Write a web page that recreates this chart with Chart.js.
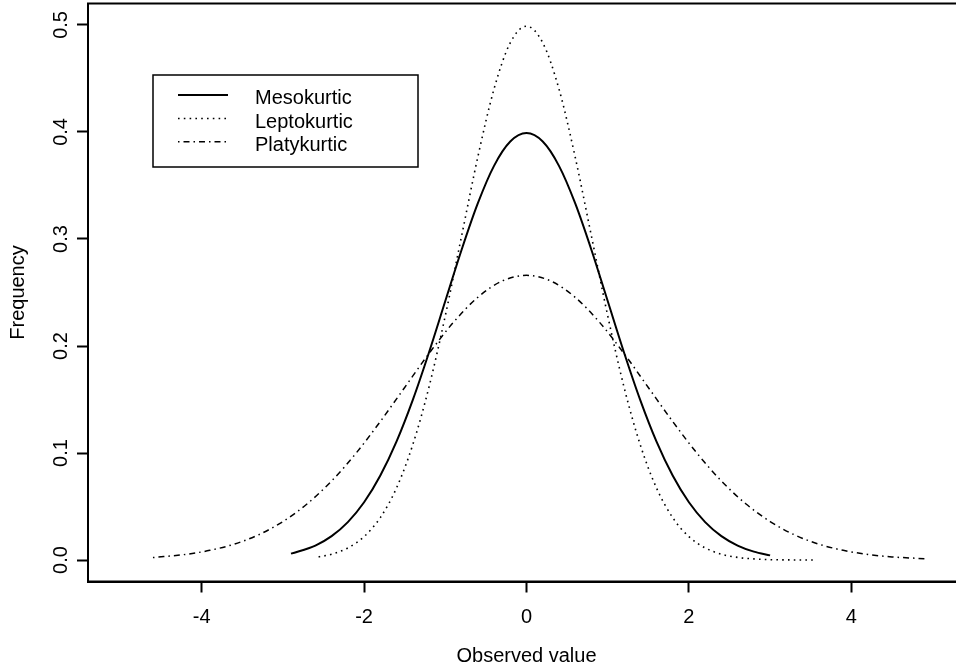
<!DOCTYPE html>
<html>
<head>
<meta charset="utf-8">
<script src="https://cdn.jsdelivr.net/npm/chart.js@4/dist/chart.umd.min.js"></script>
<style>
  html, body { margin: 0; padding: 0; background: #fff; overflow: hidden; }
  #wrap { width: 972px; height: 671px; }
</style>
</head>
<body>
<div id="wrap"><canvas id="kurtChart" width="972" height="671"></canvas></div>
<script>
// density curves (x, frequency)
const mesoX = [-2.9, -2.6, -2.4, -2.2, -2.0, -1.8, -1.6, -1.4, -1.2, -1.0, -0.8, -0.6, -0.4, -0.2, 0,
               0.2, 0.4, 0.6, 0.8, 1.0, 1.2, 1.4, 1.6, 1.8, 2.0, 2.2, 2.4, 2.6, 2.8, 3.0];
const mesoY = [0.0060, 0.0136, 0.0224, 0.0355, 0.0540, 0.0790, 0.1109, 0.1497, 0.1942, 0.2420, 0.2897, 0.3332, 0.3683, 0.3910, 0.3989,
               0.3910, 0.3683, 0.3332, 0.2897, 0.2420, 0.1942, 0.1497, 0.1109, 0.0790, 0.0540, 0.0355, 0.0224, 0.0136, 0.0079, 0.0044];

const leptoX = [-2.56, -2.4, -2.2, -2.0, -1.8, -1.6, -1.4, -1.2, -1.0, -0.8, -0.6, -0.4, -0.2, 0,
                0.2, 0.4, 0.6, 0.8, 1.0, 1.2, 1.4, 1.6, 1.8, 2.0, 2.2, 2.4, 2.6, 2.8, 3.0, 3.2, 3.4, 3.55];
const leptoY = [0.0030, 0.0055, 0.0114, 0.0219, 0.0397, 0.0675, 0.1079, 0.1619, 0.2283, 0.3025, 0.3764, 0.4401, 0.4833, 0.4987,
                0.4833, 0.4401, 0.3764, 0.3025, 0.2283, 0.1619, 0.1079, 0.0675, 0.0397, 0.0219, 0.0114, 0.0055, 0.0025, 0.0011, 0.0004, 0.0002, 0.0001, 0.0000];

const platyX = [-4.6, -4.2, -3.9, -3.6, -3.3, -3.0, -2.7, -2.4, -2.1, -1.8, -1.5, -1.2, -0.9, -0.6, -0.3, 0,
                0.3, 0.6, 0.9, 1.2, 1.5, 1.8, 2.1, 2.4, 2.7, 3.0, 3.3, 3.6, 3.9, 4.2, 4.5, 4.9];
const platyY = [0.0024, 0.0053, 0.0091, 0.0149, 0.0236, 0.0360, 0.0526, 0.0739, 0.0998, 0.1295, 0.1613, 0.1931, 0.2221, 0.2455, 0.2607, 0.2660,
                0.2607, 0.2455, 0.2221, 0.1931, 0.1613, 0.1295, 0.0998, 0.0739, 0.0526, 0.0360, 0.0236, 0.0149, 0.0091, 0.0053, 0.0030, 0.0013];

const seriesNames = ['Mesokurtic', 'Leptokurtic', 'Platykurtic'];
const xTicks = [-4, -2, 0, 2, 4];
const yTicks = [0.0, 0.1, 0.2, 0.3, 0.4, 0.5];

const FONT = '"Liberation Sans", Arial, Helvetica, sans-serif';
const FSIZE = 20;

const styles = [
    { borderWidth: 2, borderDash: [] },
    { borderWidth: 1.6, borderDash: [1.6, 4.2] },
    { borderWidth: 1.5, borderDash: [1.5, 4, 6, 4] }
];

function toPoints(xs, ys) {
    return xs.map((x, i) => ({ x: x, y: ys[i] }));
}

// box around plot region, R style
const boxPlugin = {
    id: 'plotBox',
    afterDraw(chart) {
        const { ctx, chartArea: a } = chart;
        ctx.save();
        ctx.strokeStyle = '#000';
        ctx.lineWidth = 2;
        ctx.strokeRect(a.left, a.top, a.right - a.left, a.bottom - a.top);
        ctx.restore();
    }
};

// legend drawn inside the plot, top-left
const legendPlugin = {
    id: 'innerLegend',
    afterDraw(chart) {
        const ctx = chart.ctx;
        ctx.save();
        ctx.strokeStyle = '#000';
        ctx.lineWidth = 1.5;
        ctx.strokeRect(153, 75, 265, 92);
        ctx.font = FSIZE + 'px ' + FONT;
        ctx.fillStyle = '#000';
        ctx.textBaseline = 'middle';
        const rows = [95, 118.5, 141.7];
        chart.data.datasets.forEach((ds, i) => {
            ctx.beginPath();
            ctx.lineWidth = ds.borderWidth;
            ctx.setLineDash(ds.borderDash);
            ctx.moveTo(178, rows[i]);
            ctx.lineTo(228, rows[i]);
            ctx.stroke();
            ctx.setLineDash([]);
            ctx.fillText(ds.label, 255, rows[i] + 3.5);
        });
        ctx.restore();
    }
};

const ctx = document.getElementById('kurtChart').getContext('2d');
const chart = new Chart(ctx, {
    type: 'scatter',
    data: {
        datasets: [
            { label: seriesNames[0], data: toPoints(mesoX, mesoY) },
            { label: seriesNames[1], data: toPoints(leptoX, leptoY) },
            { label: seriesNames[2], data: toPoints(platyX, platyY) }
        ].map((ds, i) => Object.assign(ds, styles[i], {
            showLine: true,
            borderColor: '#000',
            pointRadius: 0,
            cubicInterpolationMode: 'monotone',
            fill: false
        }))
    },
    options: {
        responsive: false,
        animation: false,
        devicePixelRatio: 1,
        layout: { padding: { top: 3.5, right: 7, left: 0, bottom: 0 } },
        plugins: {
            legend: { display: false },
            tooltip: { enabled: false }
        },
        scales: {
            x: {
                type: 'linear',
                position: 'bottom',
                min: -5.4,
                max: 5.4,
                afterBuildTicks: s => { s.ticks = xTicks.map(v => ({ value: v })); },
                afterFit: s => { s.height = 89.5; s.paddingLeft = 0; s.paddingRight = 0; },
                grid: { drawOnChartArea: false, drawTicks: true, tickLength: 11, tickWidth: 2, tickColor: '#000' },
                border: { display: true, color: '#000', width: 2 },
                ticks: {
                    color: '#000',
                    font: { family: FONT, size: FSIZE },
                    padding: 12.5,
                    maxRotation: 0,
                    autoSkip: false,
                    callback: v => String(v)
                },
                title: {
                    display: true,
                    text: 'Observed value',
                    color: '#000',
                    font: { family: FONT, size: FSIZE },
                    padding: { top: 0, bottom: 2.5 }
                }
            },
            y: {
                type: 'linear',
                min: -0.02,
                max: 0.52,
                afterBuildTicks: s => { s.ticks = yTicks.map(v => ({ value: v })); },
                afterFit: s => { s.width = 88; s.paddingTop = 0; s.paddingBottom = 0; },
                grid: { drawOnChartArea: false, drawTicks: true, tickLength: 11, tickWidth: 2, tickColor: '#000' },
                border: { display: true, color: '#000', width: 2 },
                ticks: {
                    color: '#000',
                    font: { family: FONT, size: FSIZE },
                    minRotation: 90,
                    maxRotation: 90,
                    crossAlign: 'center',
                    padding: 2,
                    autoSkip: false,
                    callback: v => v.toFixed(1)
                },
                title: {
                    display: true,
                    text: 'Frequency',
                    color: '#000',
                    font: { family: FONT, size: FSIZE },
                    padding: { top: 6, bottom: 0 }
                }
            }
        }
    },
    plugins: [boxPlugin, legendPlugin]
});
</script>
</body>
</html>
